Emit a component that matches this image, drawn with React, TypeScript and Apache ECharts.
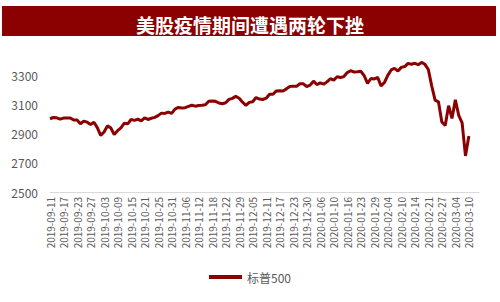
import React, { useEffect, useRef } from "react";
import * as echarts from "echarts";

const titleText = "美股疫情期间遭遇两轮下挫";
const seriesName = "标普500";

const dates: string[] = [
  "2019-09-11","2019-09-12","2019-09-13","2019-09-16","2019-09-17","2019-09-18","2019-09-19","2019-09-20","2019-09-23","2019-09-24","2019-09-25","2019-09-26","2019-09-27","2019-09-30",
  "2019-10-01","2019-10-02","2019-10-03","2019-10-04","2019-10-07","2019-10-08","2019-10-09","2019-10-10","2019-10-11","2019-10-14","2019-10-15","2019-10-16","2019-10-17","2019-10-18","2019-10-21","2019-10-22","2019-10-23","2019-10-24","2019-10-25","2019-10-28","2019-10-29","2019-10-30","2019-10-31",
  "2019-11-01","2019-11-04","2019-11-05","2019-11-06","2019-11-07","2019-11-08","2019-11-11","2019-11-12","2019-11-13","2019-11-14","2019-11-15","2019-11-18","2019-11-19","2019-11-20","2019-11-21","2019-11-22","2019-11-25","2019-11-26","2019-11-27","2019-11-29",
  "2019-12-02","2019-12-03","2019-12-04","2019-12-05","2019-12-06","2019-12-09","2019-12-10","2019-12-11","2019-12-12","2019-12-13","2019-12-16","2019-12-17","2019-12-18","2019-12-19","2019-12-20","2019-12-23","2019-12-24","2019-12-26","2019-12-27","2019-12-30","2019-12-31",
  "2020-01-02","2020-01-03","2020-01-06","2020-01-07","2020-01-08","2020-01-09","2020-01-10","2020-01-13","2020-01-14","2020-01-15","2020-01-16","2020-01-17","2020-01-21","2020-01-22","2020-01-23","2020-01-24","2020-01-27","2020-01-28","2020-01-29","2020-01-30","2020-01-31",
  "2020-02-03","2020-02-04","2020-02-05","2020-02-06","2020-02-07","2020-02-10","2020-02-11","2020-02-12","2020-02-13","2020-02-14","2020-02-18","2020-02-19","2020-02-20","2020-02-21","2020-02-24","2020-02-25","2020-02-26","2020-02-27","2020-02-28",
  "2020-03-02","2020-03-03","2020-03-04","2020-03-05","2020-03-06","2020-03-09","2020-03-10","2020-03-11","2020-03-12","2020-03-13"
];

const spx: (number | null)[] = [
  3000.93,3009.57,3007.39,2997.96,3005.70,3006.73,3006.79,2992.07,2991.78,2966.60,2984.87,2977.62,2961.79,2976.74,
  2940.25,2887.61,2910.63,2952.01,2938.79,2893.06,2919.40,2938.13,2970.27,2966.15,2995.68,2989.69,2997.95,2986.20,3006.72,2995.99,3004.52,3010.29,3022.55,3039.42,3036.89,3046.77,3037.56,
  3066.91,3078.27,3074.62,3076.78,3085.18,3093.08,3087.01,3091.84,3094.04,3096.63,3120.46,3122.03,3120.18,3108.46,3103.54,3110.29,3133.64,3140.52,3153.63,3140.98,
  3113.87,3093.20,3112.76,3117.43,3145.91,3135.96,3132.52,3141.63,3168.57,3168.80,3191.45,3192.52,3191.14,3205.37,3221.22,3224.01,3223.38,3239.91,3240.02,3221.29,3230.78,
  3257.85,3234.85,3246.28,3237.18,3253.05,3274.70,3265.35,3288.13,3283.15,3289.29,3316.81,3329.62,3320.79,3321.75,3325.54,3295.47,3243.63,3276.24,3273.40,3283.66,3225.52,
  3248.92,3297.59,3334.69,3345.78,3327.71,3352.09,3357.75,3379.45,3373.94,3380.16,3370.29,3386.15,3373.23,3337.75,3225.89,3128.21,3116.39,2978.76,2954.22,
  3090.23,3003.37,3130.12,3023.94,2972.37,2746.56,2882.23,null,null,null
];

const yMin = 2500;
const yMax = 3400;
const yStep = 200;

const RED = "#8B0000";
const FONT = "'Noto Sans CJK SC', 'Noto Sans', sans-serif";

export default function App() {
  const ref = useRef<HTMLDivElement>(null);
  useEffect(() => {
    document.body.style.margin = "0";
    if (!ref.current) return;
    const chart = echarts.init(ref.current, null, { renderer: "svg" });
    chart.setOption({
      animation: false,
      backgroundColor: "#ffffff",
      textStyle: { fontFamily: FONT },
      graphic: [
        {
          type: "rect",
          shape: { x: 2, y: 6, width: 494, height: 30 },
          style: { fill: RED },
          z: 0,
        },
      ],
      title: {
        text: titleText,
        left: "center",
        top: 10,
        textStyle: {
          color: "#ffffff",
          fontSize: 19,
          fontWeight: "bold",
          fontFamily: FONT,
        },
      },
      legend: {
        bottom: 14,
        left: "center",
        icon: "rect",
        itemWidth: 33,
        itemHeight: 4,
        itemGap: 10,
        textStyle: { color: "#595959", fontSize: 12, fontFamily: FONT },
        data: [seriesName],
      },
      grid: { left: 50, right: 21, top: 60.4, bottom: 110, containLabel: false },
      xAxis: {
        type: "category",
        data: dates,
        boundaryGap: false,
        axisLine: { show: true, lineStyle: { color: "#d9d9d9", width: 1 } },
        axisTick: { show: false },
        axisLabel: {
          interval: 3,
          rotate: 90,
          color: "#595959",
          fontSize: 10,
          margin: 5,
          fontFamily: FONT,
        },
        splitLine: { show: false },
      },
      yAxis: {
        type: "value",
        min: yMin,
        max: yMax,
        interval: yStep,
        axisLine: { show: false },
        axisTick: { show: false },
        splitLine: { show: false },
        axisLabel: {
          color: "#595959",
          fontSize: 12,
          margin: 12,
          showMaxLabel: false,
          fontFamily: FONT,
          formatter: (v: number) => String(v),
        },
      },
      series: [
        {
          name: seriesName,
          type: "line",
          data: spx,
          showSymbol: false,
          symbol: "none",
          lineStyle: { color: RED, width: 3 },
          itemStyle: { color: RED },
          connectNulls: false,
        },
      ],
    });
    return () => chart.dispose();
  }, []);
  return (
    <div
      ref={ref}
      style={{ width: 500, height: 302, position: "absolute", left: 0, top: 0 }}
    />
  );
}
